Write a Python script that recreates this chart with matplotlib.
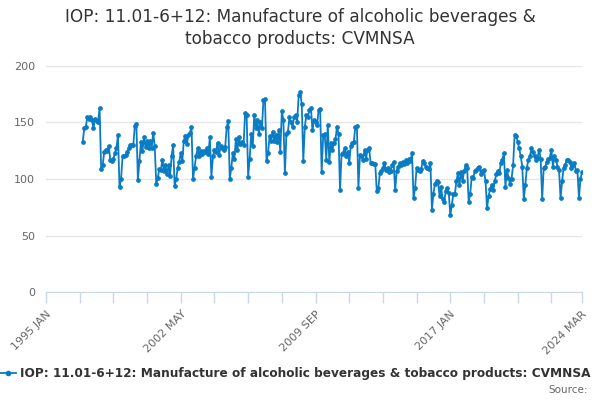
import matplotlib
matplotlib.use("Agg")
import matplotlib.pyplot as plt
import numpy as np

title = "IOP: 11.01-6+12: Manufacture of alcoholic beverages &\ntobacco products: CVMNSA"
series_name = "IOP: 11.01-6+12: Manufacture of alcoholic beverages & tobacco products: CVMNSA"

start_year = 1997  # monthly data from 1997 JAN to 2024 MAR
values = [
    # 1997
    133, 145, 146, 155, 153, 155, 152, 145, 153, 151, 150, 163,
    # 1998
    109, 112, 124, 126, 125, 129, 117, 116, 118, 123, 127, 139,
    # 1999
    93, 100, 120, 120, 121, 124, 127, 130, 130, 130, 147, 149,
    # 2000
    99, 116, 133, 125, 137, 128, 134, 127, 134, 127, 141, 129,
    # 2001
    96, 101, 109, 108, 117, 107, 112, 104, 112, 103, 120, 130,
    # 2002
    94, 100, 110, 115, 123, 116, 134, 138, 131, 139, 141, 146,
    # 2003
    100, 110, 120, 127, 120, 125, 122, 125, 124, 127, 122, 137,
    # 2004
    102, 120, 126, 124, 132, 121, 129, 127, 126, 128, 146, 151,
    # 2005
    100, 110, 123, 118, 135, 126, 137, 131, 133, 130, 158, 157,
    # 2006
    102, 118, 140, 129, 157, 145, 152, 140, 150, 145, 170, 171,
    # 2007
    116, 123, 138, 134, 142, 134, 139, 133, 143, 124, 160, 152,
    # 2008
    105, 140, 142, 155, 150, 146, 155, 157, 150, 174, 177, 166,
    # 2009
    116, 146, 157, 155, 161, 163, 143, 152, 150, 148, 161, 162,
    # 2010
    106, 139, 140, 117, 148, 115, 132, 126, 132, 135, 146, 140,
    # 2011
    90, 122, 123, 127, 120, 124, 114, 129, 132, 133, 146, 147,
    # 2012
    92, 121, 120, 117, 126, 118, 126, 127, 114, 114, 113, 113,
    # 2013
    89, 92, 105, 107, 110, 114, 108, 110, 106, 107, 112, 115,
    # 2014
    90, 107, 111, 114, 112, 115, 113, 117, 114, 118, 116, 123,
    # 2015
    83, 92, 110, 108, 107, 109, 116, 114, 111, 110, 109, 114,
    # 2016
    73, 87, 96, 98, 97, 85, 93, 82, 80, 89, 92, 88,
    # 2017
    68, 77, 87, 87, 98, 105, 95, 106, 98, 107, 112, 110,
    # 2018
    80, 87, 102, 101, 107, 108, 110, 111, 104, 107, 108, 98,
    # 2019
    74, 85, 91, 95, 90, 98, 104, 107, 105, 114, 117, 123,
    # 2020
    93, 108, 101, 96, 100, 112, 139, 138, 133, 127, 120, 111,
    # 2021
    82, 95, 110, 117, 120, 127, 124, 120, 117, 119, 126, 118,
    # 2022
    82, 110, 111, 115, 118, 119, 126, 111, 120, 117, 111, 108,
    # 2023
    83, 98, 110, 112, 117, 117, 115, 110, 112, 114, 107, 108,
    # 2024
    83, 100, 106,
]

yticks = [0, 50, 100, 150, 200]
xtick_labels = ["1995 JAN", "2002 MAY", "2009 SEP", "2017 JAN", "2024 MAR"]

months = ["JAN", "FEB", "MAR", "APR", "MAY", "JUN", "JUL", "AUG", "SEP", "OCT", "NOV", "DEC"]

def month_index(label):
    y, m = label.split()
    return (int(y) - 1995) * 12 + months.index(m)

x = (start_year - 1995) * 12 + np.arange(len(values))

fig = plt.figure(figsize=(6, 4), dpi=100)
ax = fig.add_axes([46/600, 108/400, 536/600, 226/400])

color = "#0a7cc4"
ax.plot(x, values, color=color, lw=1.3, marker="o", ms=2.4, mec=color, mfc=color)

ax.set_ylim(0, 200)
ax.set_xlim(0, month_index("2024 MAR"))
ax.set_yticks(yticks)
ax.yaxis.grid(True, color="#e6e6e6", lw=1)
ax.set_axisbelow(True)
ax.tick_params(axis="y", length=0, labelsize=8, labelcolor="#666666", pad=8)

major = [month_index(l) for l in xtick_labels]
minor = list(range(0, month_index("2024 MAR"), 22))
ax.set_xticks(major)
ax.set_xticklabels(xtick_labels, rotation=45, ha="right", rotation_mode="anchor",
                   fontsize=8, color="#666666")
ax.set_xticks(minor, minor=True)
ax.tick_params(axis="x", which="both", length=8, color="#ccd6eb", width=1, pad=4)

for s in ["left", "right", "top"]:
    ax.spines[s].set_visible(False)
ax.spines["bottom"].set_color("#ccd6eb")

fig.text(0.5, 0.93, title, ha="center", va="center", fontsize=12.2, color="#333333",
         linespacing=1.3)

# legend
ly = 1 - 373/400
fig.lines.append(plt.Line2D([0/600, 16/600], [ly, ly], color=color, lw=1.3,
                            transform=fig.transFigure))
fig.lines.append(plt.Line2D([8/600], [ly], color=color, marker="o", ms=3,
                            transform=fig.transFigure))
fig.text(20/600, ly, series_name, ha="left", va="center", fontsize=8.75,
         fontweight="bold", color="#333333")
fig.text(588/600, 1 - 390/400, "Source:", ha="right", va="center", fontsize=7.5, color="#666666")

fig.savefig("out.png", dpi=100)
